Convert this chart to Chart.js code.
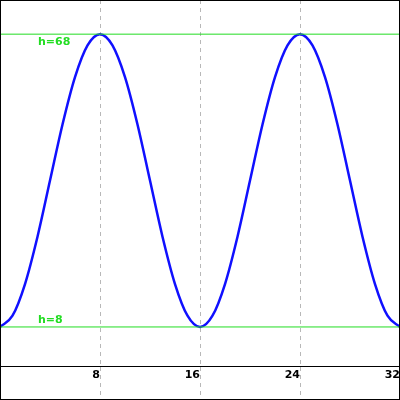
<!DOCTYPE html>
<html>
<head>
<meta charset="utf-8">
<script src="https://cdn.jsdelivr.net/npm/chart.js@4/dist/chart.umd.min.js"></script>
<style>
  html, body { margin: 0; padding: 0; background: #fff; }
  #wrap { width: 400px; height: 400px; }
</style>
</head>
<body>
<div id="wrap"><canvas id="waveChart" width="400" height="400"></canvas></div>
<script>
// positions along the x axis (0..32) and the height
const xValues = [0, 1, 2, 3, 4, 5, 6, 7, 8, 9, 10, 11, 12, 13, 14, 15, 16,
                 17, 18, 19, 20, 21, 22, 23, 24, 25, 26, 27, 28, 29, 30, 31, 32];
const hValues = [8, 10.3, 16.8, 26.5, 38, 49.5, 59.2, 65.7, 68, 65.7, 59.2, 49.5, 38, 26.5, 16.8, 10.3, 8,
                 10.3, 16.8, 26.5, 38, 49.5, 59.2, 65.7, 68, 65.7, 59.2, 49.5, 38, 26.5, 16.8, 10.3, 8];
const xTicks = [8, 16, 24, 32];
const refLevels = [68, 8];
const refLabels = ['h=68', 'h=8'];

const curve = xValues.map((x, i) => ({ x: x, y: hValues[i] }));
const refSets = refLevels.map(level => ({
    data: [{ x: 0, y: level }, { x: 32, y: level }],
    borderColor: '#22dd22',
    borderWidth: 1,
    pointRadius: 0,
    tension: 0
}));

// green labels next to the reference lines, black frame round the canvas
const decorations = {
    id: 'decorations',
    afterDatasetsDraw(chart) {
        const ctx = chart.ctx;
        const y = chart.scales.y;
        ctx.save();
        ctx.font = 'bold 11px "DejaVu Sans"';
        ctx.fillStyle = '#22dd22';
        ctx.textAlign = 'left';
        refLevels.forEach((level, i) => {
            const py = y.getPixelForValue(level);
            if (i === 0) {
                ctx.textBaseline = 'top';
                ctx.fillText(refLabels[i], 38, py + 2);
            } else {
                ctx.textBaseline = 'bottom';
                ctx.fillText(refLabels[i], 38, py - 1);
            }
        });
        ctx.strokeStyle = '#000';
        ctx.lineWidth = 1;
        ctx.setLineDash([]);
        ctx.strokeRect(0.5, 0.5, chart.width - 1, chart.height - 1);
        ctx.restore();
    }
};

new Chart(document.getElementById('waveChart').getContext('2d'), {
    type: 'line',
    data: {
        datasets: [
            ...refSets,
            {
                data: curve,
                borderColor: '#1010ff',
                borderWidth: 2.5,
                pointRadius: 0,
                cubicInterpolationMode: 'monotone'
            }
        ]
    },
    options: {
        responsive: false,
        animation: false,
        layout: { padding: 0 },
        plugins: {
            legend: { display: false },
            tooltip: { enabled: false }
        },
        scales: {
            x: {
                type: 'linear',
                min: 0,
                max: 32,
                afterBuildTicks: scale => { scale.ticks = xTicks.map(v => ({ value: v })); },
                afterFit: scale => { scale.height = 34; },
                border: { display: true, color: '#000', width: 1, dash: [4, 4] },
                grid: {
                    color: '#b8b8b8',
                    lineWidth: 1,
                    tickLength: 34,
                    tickColor: '#b8b8b8',
                    tickBorderDash: [4, 4]
                },
                ticks: {
                    align: 'end',
                    padding: -31,
                    color: '#000',
                    maxRotation: 0,
                    font: { family: '"DejaVu Sans"', size: 11, weight: 'bold' }
                }
            },
            y: {
                display: false,
                min: 0,
                max: 75
            }
        }
    },
    plugins: [decorations]
});
</script>
</body>
</html>
